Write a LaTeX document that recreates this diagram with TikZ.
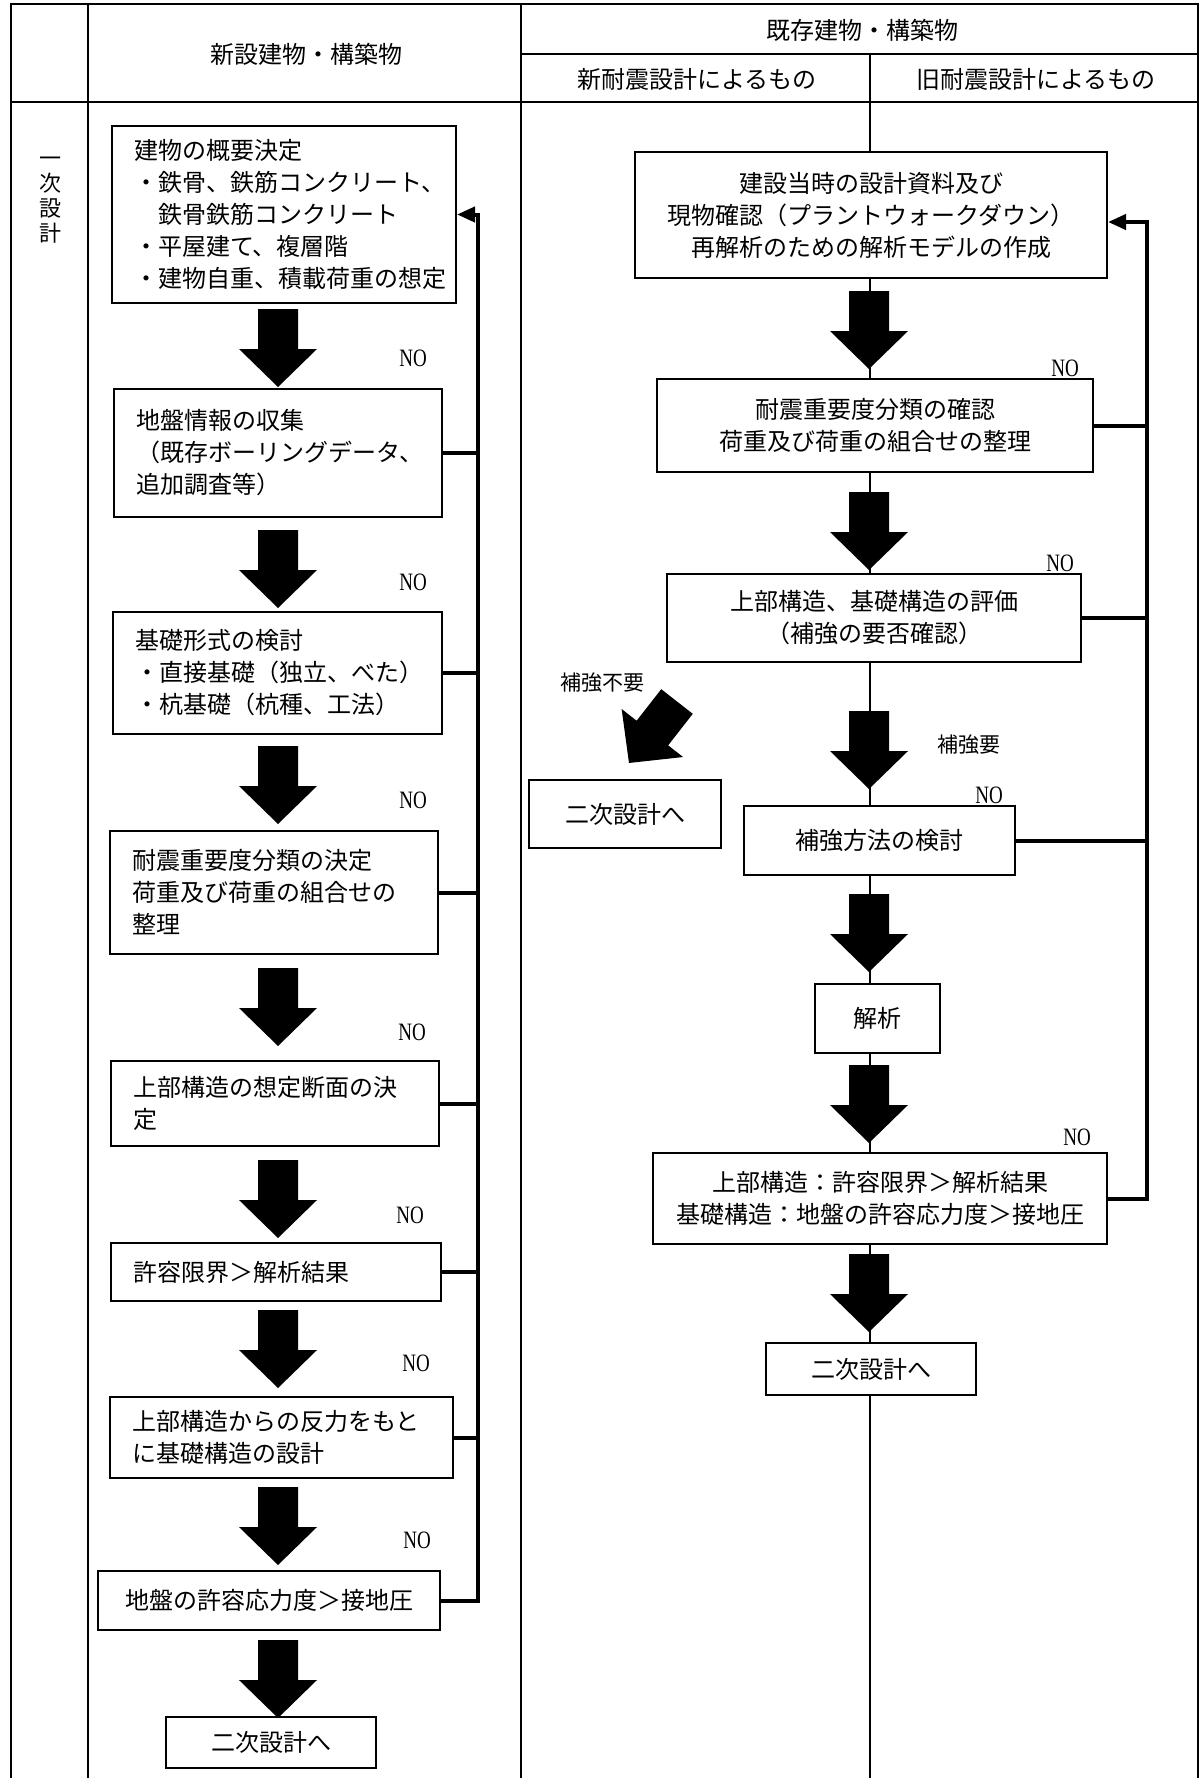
\documentclass[tikz,border=0pt]{standalone}
\usepackage{fontspec}
\setmainfont{Noto Sans CJK JP}
\newfontfamily\latinSerif{Liberation Serif}
\usetikzlibrary{calc,arrows.meta}

\begin{document}
\begin{tikzpicture}[x=1pt,y=-1pt,
        frameLine/.style={line width=2pt},
        flowBox/.style={draw,line width=2pt,fill=white,inner sep=0pt,
                font=\fontsize{24}{32}\selectfont},
        leftBox/.style={flowBox,align=left,inner xsep=22pt},
        midBox/.style={flowBox,align=center},
        headText/.style={font=\fontsize{24}{32}\selectfont},
        busLine/.style={line width=4pt},
        noLabel/.style={font=\fontsize{25}{25}\latinSerif},
        smallLabel/.style={font=\fontsize{21}{21}\selectfont},
        blockArrow/.pic={\fill (-20,0) -- (20,0) -- (20,40) -- (39,40) -- (0,78) -- (-39,40) -- (-20,40) -- cycle;}]

    \useasboundingbox (0,0) rectangle (1203,1778);

    % table
    \draw[frameLine] (11,1778) -- (11,4) -- (1198,4) -- (1198,1778);
    \draw[frameLine] (88,4) -- (88,1778);
    \draw[frameLine] (521,4) -- (521,1778);
    \draw[frameLine] (11,102) -- (1198,102);
    \draw[frameLine] (521,54) -- (1198,54);
    \draw[frameLine] (870,54) -- (870,1778);

    \node[headText] (headNew) at (306,54) {新設建物・構築物};
    \node[headText] (headExist) at (862,30) {既存建物・構築物};
    \node[headText] (headNewCode) at (697,79) {新耐震設計によるもの};
    \node[headText] (headOldCode) at (1036,79) {旧耐震設計によるもの};
    \node[align=center,font=\fontsize{22}{25}\selectfont] (headPhase) at (50,200) {一\\次\\設\\計};

    % new buildings
    \node[leftBox,text width=300,minimum height=177] (newBox1) at (284,214.5)
        {建物の概要決定\\・鉄骨、鉄筋コンクリート、\\　鉄骨鉄筋コンクリート\\・平屋建て、複層階\\・建物自重、積載荷重の想定};
    \node[leftBox,text width=284,minimum height=128] (newBox2) at (278,453)
        {地盤情報の収集\\（既存ボーリングデータ、\\追加調査等）};
    \node[leftBox,text width=285,minimum height=122] (newBox3) at (277.5,673)
        {基礎形式の検討\\・直接基礎（独立、べた）\\・杭基礎（杭種、工法）};
    \node[leftBox,text width=284,minimum height=123] (newBox4) at (274,892.5)
        {耐震重要度分類の決定\\荷重及び荷重の組合せの\\整理};
    \node[leftBox,text width=284,minimum height=85] (newBox5) at (275,1103.5)
        {上部構造の想定断面の決\\定};
    \node[leftBox,text width=286,minimum height=58] (newBox6) at (276,1272)
        {許容限界＞解析結果};
    \node[leftBox,text width=299,minimum height=81] (newBox7) at (281.5,1437.5)
        {上部構造からの反力をもと\\に基礎構造の設計};
    \node[midBox,minimum width=342,minimum height=59] (newBox8) at (269,1600.5)
        {地盤の許容応力度＞接地圧};
    \node[midBox,minimum width=210,minimum height=51] (newEnd) at (271,1742.5)
        {二次設計へ};

    \foreach \y in {309,530,746,968,1160,1310,1487,1640}
        \pic at (278,\y) {blockArrow};

    \coordinate (busNew) at (478,0);
    \draw[busLine,-{Triangle[length=18pt,width=15pt]}] (newBox8.east) -| (busNew |- newBox1.east) -- (newBox1.east);
    \foreach \i in {2,...,7}
        \draw[busLine] (newBox\i.east) -- (newBox\i.east -| busNew);

    % existing buildings
    \node[midBox,minimum width=472,minimum height=126] (exBox1) at (871,215)
        {建設当時の設計資料及び\\現物確認（プラントウォークダウン）\\再解析のための解析モデルの作成};
    \node[midBox,minimum width=436,minimum height=93] (exBox2) at (875,425.5)
        {耐震重要度分類の確認\\荷重及び荷重の組合せの整理};
    \node[midBox,minimum width=414,minimum height=88] (exBox3) at (874,618)
        {上部構造、基礎構造の評価\\（補強の要否確認）};
    \node[midBox,minimum width=271,minimum height=69] (exBox4) at (879.5,840.5)
        {補強方法の検討};
    \node[midBox,minimum width=125,minimum height=69] (exBox5) at (877.5,1018.5)
        {解析};
    \node[midBox,minimum width=454,minimum height=91] (exBox6) at (880,1198.5)
        {上部構造：許容限界＞解析結果\\基礎構造：地盤の許容応力度＞接地圧};
    \node[midBox,minimum width=210,minimum height=52] (exEnd) at (871,1369)
        {二次設計へ};
    \node[midBox,minimum width=192,minimum height=68] (exSkip) at (625,814)
        {二次設計へ};

    \foreach \y in {291,492,711,894,1065,1254}
        \pic at (869,\y) {blockArrow};
    \pic[rotate=-38] at (677,701.5) {blockArrow};

    \node[smallLabel] (skipLabel) at (602,683) {補強不要};
    \node[smallLabel] (needLabel) at (969,745) {補強要};

    \coordinate (busEx) at (1147,0);
    \draw[busLine,-{Triangle[length=18pt,width=15pt]}] (exBox6.east) -| ($(busEx |- exBox1.east)+(0,7)$) -- ($(exBox1.east)+(0,7)$);
    \foreach \i in {2,3,4}
        \draw[busLine] (exBox\i.east) -- (exBox\i.east -| busEx);

    % no marks
    \foreach \x/\y [count=\k] in {413/358,413/582,413/800,412/1032,410/1215,416/1363,417/1540,1065/368,1060/563,989/795,1077/1137}
        \node[noLabel] (noMark\k) at (\x,\y) {\scalebox{0.76}[1]{NO}};
\end{tikzpicture}
\end{document}
